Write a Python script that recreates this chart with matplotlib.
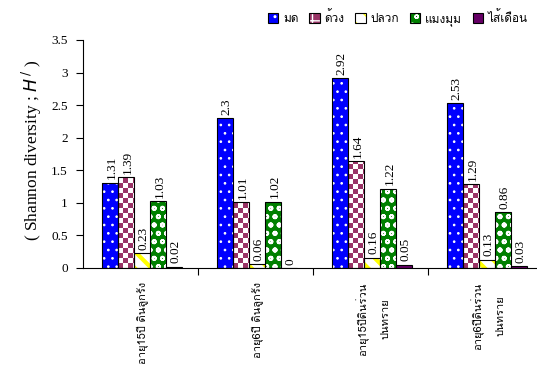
import matplotlib
matplotlib.use("Agg")
import matplotlib.pyplot as plt
import matplotlib.patches as mpatches
from matplotlib.legend_handler import HandlerTuple
import numpy as np

# data
sites = ["อายุ15ปี ดินลูกรัง", "อายุ6ปี ดินลูกรัง",
         "อายุ15ปีดินร่วน\nปนทราย", "อายุ6ปีดินร่วน\nปนทราย"]
groups = ["มด", "ด้วง", "ปลวก", "แมงมุม", "ไส้เดือน"]
ant = [1.31, 2.3, 2.92, 2.53]
beetle = [1.39, 1.01, 1.64, 1.29]
termite = [0.23, 0.06, 0.16, 0.13]
spider = [1.03, 1.02, 1.22, 0.86]
worm = [0.02, 0, 0.05, 0.03]
values = [ant, beetle, termite, spider, worm]

# style per series: face, hatch, hatch colour, hatch width
faces = ["#0000ff", "#993366", "#ffffff", "#008000", "#660066"]
hatches = ["..", "++", "\\\\", "oo", None]
hcols = ["#ffffff", "#ffffff", "#ffff00", "#ffffff", "#660066"]
hwidths = [0.7, 2.5, 3.0, 1.3, 1.0]

serif = "Liberation Serif"
thai = "Loma"

fig = plt.figure(figsize=(5.37, 3.82), dpi=100)
ax = fig.add_axes([83 / 537, 1 - 268 / 382, (543 - 83) / 537, (268 - 40) / 382])

x = np.arange(len(sites))
w = 0.139
ymax = 3.5
px_x = 4.0 / 460      # data units per pixel
px_y = ymax / 228
cell = 5              # checker cell, px

handles = []
for i, vals in enumerate(values):
    pos = x + (i - 2) * w + 0.015
    plt.rcParams["hatch.linewidth"] = hwidths[i]
    if i == 1:
        fill = ax.bar(pos, vals, w, color="white", linewidth=0, zorder=2)
        nrow = int(np.ceil(ymax / (cell * px_y)))
        ncol = int(np.ceil(w / (cell * px_x)))
        chk = (np.add.outer(np.arange(nrow), np.arange(ncol)) % 2).astype(float)
        for rect, p in zip(fill, pos):
            im = ax.imshow(chk[::-1], cmap=matplotlib.colors.ListedColormap(["#993366", "white"]),
                           extent=(p - w / 2, p - w / 2 + ncol * cell * px_x, 0, ymax),
                           aspect="auto", interpolation="nearest", zorder=2.5)
            im.set_clip_path(rect)
    else:
        fill = ax.bar(pos, vals, w, color=faces[i], edgecolor=hcols[i], hatch=hatches[i],
                      linewidth=0, zorder=2)
    edge = ax.bar(pos, vals, w, facecolor="none", edgecolor="black", linewidth=0.8, zorder=3)
    for p, v in zip(pos, vals):
        ax.text(p + 0.01, v + 0.05, f"{v:g}", rotation=90, ha="center", va="bottom",
                fontsize=9.5, family=serif, clip_on=False)
    # legend swatch
    plt.rcParams["hatch.linewidth"] = min(hwidths[i], 1.2)
    sw = mpatches.Patch(facecolor=faces[i], edgecolor=hcols[i], hatch=hatches[i], linewidth=0)
    sw_edge = mpatches.Patch(facecolor="none", edgecolor="black", linewidth=0.8)
    handles.append((sw, sw_edge))

ax.set_xlim(-0.5, 3.5)
ax.set_ylim(0, ymax)
ticks = np.arange(0, 3.51, 0.5)
ax.set_yticks(ticks)
ax.set_yticklabels([f"{t:g}" for t in ticks], family=serif, fontsize=9.5)
ax.set_xticks([0.5, 1.5, 2.5])
ax.set_xticklabels([])
ax.tick_params(axis="x", direction="out", length=5, width=0.8)
ax.tick_params(axis="y", direction="out", length=5, width=0.8, pad=6)
for s in ["top", "right"]:
    ax.spines[s].set_visible(False)
ax.spines["left"].set_linewidth(0.8)
ax.spines["bottom"].set_linewidth(0.8)

for xi, lab in zip(x, sites):
    ax.text(xi + 0.02, -0.22, lab, rotation=90, ha="center", va="top",
            multialignment="center", linespacing=2.4,
            fontsize=8, family=thai, clip_on=False)

fig.text(32 / 537, 1 - 150 / 382, "( Shannon diversity ; $\\mathit{H}^{\\,/}$ )",
         rotation=90, ha="center", va="center", family=serif, fontsize=12.5)

fig.legend(handles=handles, labels=groups, handler_map={tuple: HandlerTuple(ndivide=1)},
           loc="center", bbox_to_anchor=(398 / 537, 1 - 18 / 382),
           ncol=5, frameon=False, prop={"family": thai, "size": 8.5},
           handlelength=0.9, handleheight=0.9, handletextpad=0.4, columnspacing=0.9)

fig.savefig("out.png", dpi=100)
